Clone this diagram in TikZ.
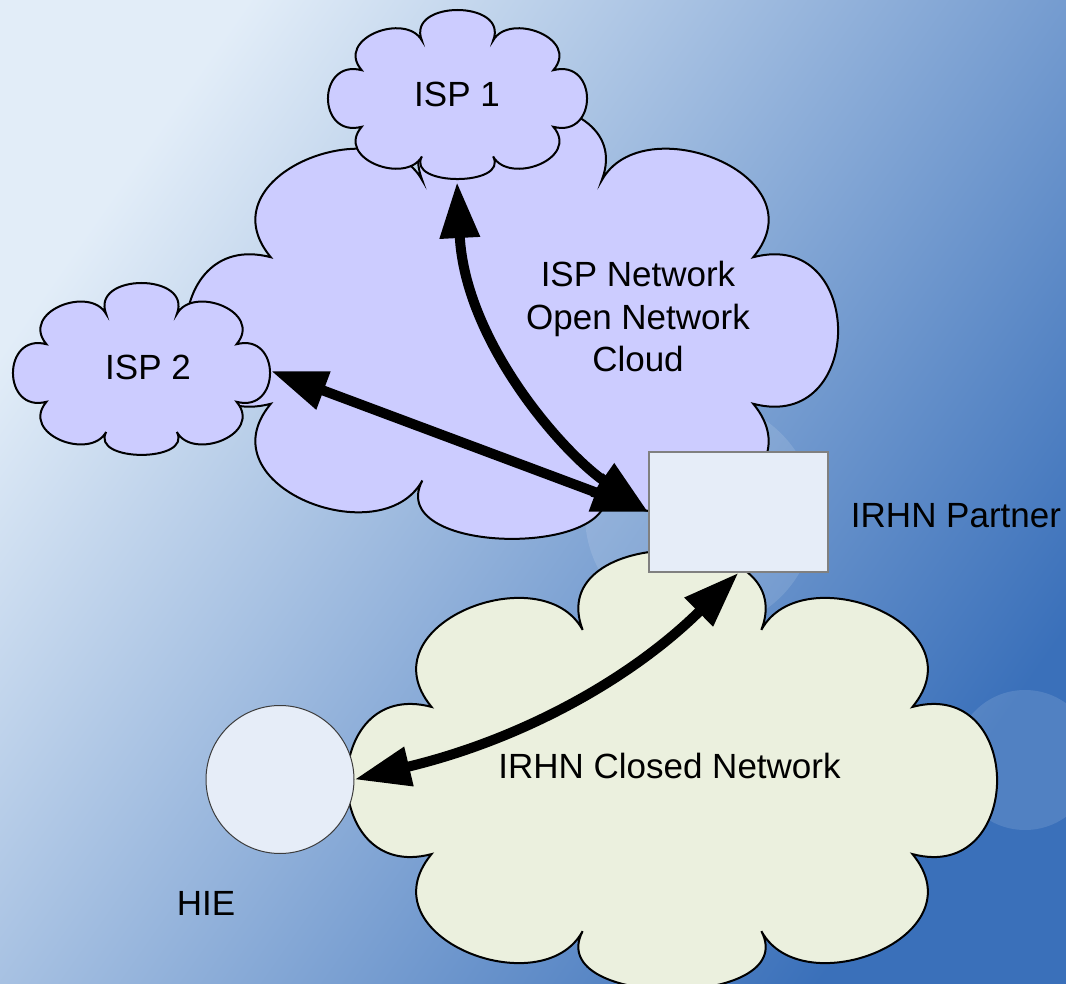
\documentclass[tikz,border=0pt]{standalone}
\usepackage{fontspec}
\setmainfont{Liberation Sans}
\usetikzlibrary{arrows.meta}
\definecolor{ispfill}{RGB}{204,204,255}
\definecolor{closedfill}{RGB}{235,240,222}
\definecolor{boxfill}{RGB}{230,237,248}
\definecolor{boxline}{RGB}{128,128,128}
\definecolor{hieline}{RGB}{60,60,60}
\definecolor{bgul}{RGB}{226,237,248}
\definecolor{bgmid}{RGB}{136,172,213}
\definecolor{bglr}{RGB}{58,112,186}
\newcommand{\drawcloud}[5]{%
  \begin{scope}[shift={(#1,#2)}, xscale=#3, yscale=#4]
    \draw[cloudline, fill=#5]
      (-0.74,-0.32) .. controls (-0.95,-0.68) and (-0.40,-0.98) .. (-0.275,-0.655)
      .. controls (-0.40,-1.115) and (0.40,-1.115) .. (0.275,-0.655)
      .. controls (0.40,-0.98) and (0.95,-0.68) .. (0.74,-0.32)
      .. controls (1.087,-0.45) and (1.087,0.45) .. (0.74,0.32)
      .. controls (0.95,0.68) and (0.40,0.98) .. (0.275,0.655)
      .. controls (0.40,0.995) and (-0.40,0.995) .. (-0.275,0.655)
      .. controls (-0.40,0.98) and (-0.95,0.68) .. (-0.74,0.32)
      .. controls (-1.087,0.45) and (-1.087,-0.45) .. (-0.74,-0.32) -- cycle;
  \end{scope}}
\begin{document}
\begin{tikzpicture}[x=1pt, y=-1pt,
  cloudline/.style={draw=black, line width=2pt, line join=miter},
  lbl/.style={font=\fontsize{35}{42.5}\selectfont, inner sep=0pt, text=black},
  biarrow/.style={line width=10pt, black,
    {Triangle[length=56pt,width=38pt]}-{Triangle[length=56pt,width=38pt]}},
  partnerbox/.style={draw=boxline, line width=1.5pt, fill=boxfill,
    minimum width=179pt, minimum height=120pt, inner sep=0pt},
  hiecircle/.style={circle, draw=hieline, line width=1pt, fill=boxfill,
    minimum size=148pt, inner sep=0pt},
  bubble/.style={fill=white, opacity=0.12}]
\useasboundingbox (0,0) rectangle (1066,984);
\clip (0,0) rectangle (1066,984);
% background
\shade[left color=bgul, middle color=bgmid, right color=bglr, shading angle=55]
  (0,0) rectangle (1066,984);
\fill[bubble] (700,515) circle[radius=115pt];
\fill[bubble] (1025,760) circle[radius=70pt];
% clouds
\drawcloud{512}{330.5}{326}{229}{ispfill}
\drawcloud{457.5}{98.5}{129.5}{88.5}{ispfill}
\drawcloud{141.5}{373}{128.5}{90}{ispfill}
\drawcloud{672}{780.5}{325}{230}{closedfill}
% nodes
\node[partnerbox] (partner) at (738.5,512) {};
\node[hiecircle] (hie) at (280,779.5) {};
\coordinate (isp1s) at (457,182);
\coordinate (isp2e) at (271,371);
% labels
\node[lbl, anchor=base] (isp1) at (457,107) {ISP 1};
\node[lbl, anchor=base] (isp2) at (148,380) {ISP 2};
\node[lbl, anchor=base] (ispnet) at (638,287)
  {\begin{tabular}[t]{@{}c@{}}ISP Network\\Open Network\\Cloud\end{tabular}};
\node[lbl, anchor=base] (partnerlbl) at (956,527) {IRHN Partner};
\node[lbl, anchor=base] (closed) at (669.5,778) {IRHN Closed Network};
\node[lbl, anchor=base] (hielbl) at (206,915) {HIE};
% connectors
\draw[biarrow] (isp1s) .. controls (465,340) and (560,450) .. (partner.west);
\draw[biarrow] (isp2e) -- (partner.west);
\draw[biarrow] (hie.east) .. controls (520,740) and (630,680) .. (partner.south);
\end{tikzpicture}
\end{document}
